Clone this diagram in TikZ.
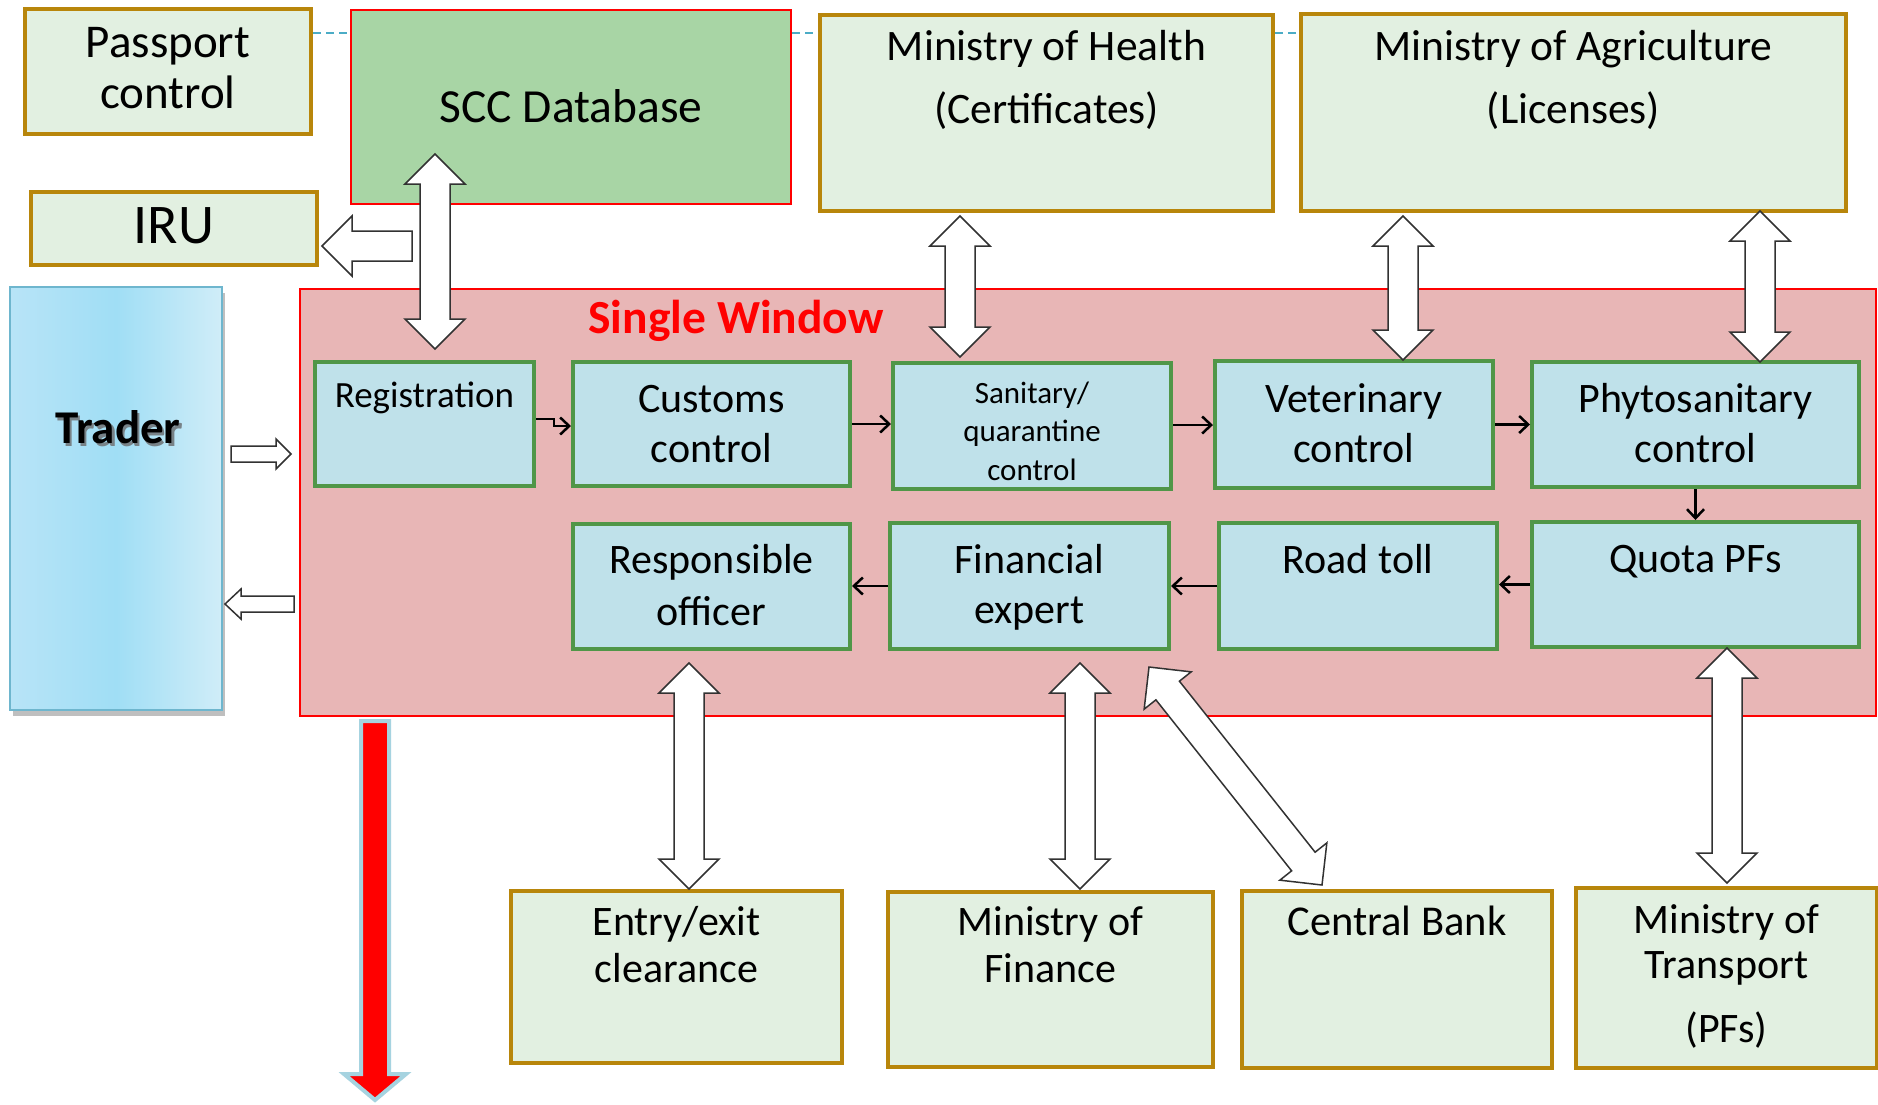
\documentclass[tikz,border=0pt]{standalone}
\usepackage{fontspec}
\setmainfont{Carlito}
\usetikzlibrary{calc,arrows.meta,shadows}

\definecolor{gbfill}{RGB}{226,240,225}
\definecolor{gbdraw}{RGB}{184,134,11}
\definecolor{sccfill}{RGB}{168,213,165}
\definecolor{swfill}{RGB}{232,182,182}
\definecolor{ibfill}{RGB}{191,225,234}
\definecolor{ibdraw}{RGB}{80,150,72}
\definecolor{dashc}{RGB}{75,172,198}
\definecolor{trdraw}{RGB}{110,182,206}
\definecolor{trl}{RGB}{184,228,247}
\definecolor{trm}{RGB}{160,222,245}
\definecolor{trr}{RGB}{208,237,248}
\definecolor{redarrowb}{RGB}{166,211,224}
\definecolor{blkdraw}{RGB}{50,50,50}
\definecolor{tshadow}{RGB}{120,130,135}

\newcommand\mlines[1]{\begin{tabular}[t]{@{}c@{}}#1\end{tabular}}
\newcommand\shadowed[1]{\makebox[0pt][l]{\hspace{2.5pt}\raisebox{-3pt}{\textcolor{tshadow}{#1}}}#1}

% double-headed block arrow between two named coordinates
\newcommand\dblblock[5]{%
  \coordinate (ha) at ($(#1)!#3pt!(#2)$);
  \coordinate (hb) at ($(#2)!#3pt!(#1)$);
  \draw[blockarr] (#1) -- ($(ha)!#4pt!90:(#2)$) -- ($(ha)!#5pt!90:(#2)$)
    -- ($(hb)!#5pt!-90:(#1)$) -- ($(hb)!#4pt!-90:(#1)$) -- (#2)
    -- ($(hb)!#4pt!90:(#1)$) -- ($(hb)!#5pt!90:(#1)$)
    -- ($(ha)!#5pt!-90:(#2)$) -- ($(ha)!#4pt!-90:(#2)$) -- cycle;}
% single-headed block arrow from tail #1 to tip #2
\newcommand\sglblock[5]{%
  \coordinate (hb) at ($(#2)!#3pt!(#1)$);
  \draw[blockarr] ($(#1)!#5pt!90:(#2)$) -- ($(hb)!#5pt!-90:(#1)$)
    -- ($(hb)!#4pt!-90:(#1)$) -- (#2) -- ($(hb)!#4pt!90:(#1)$)
    -- ($(hb)!#5pt!90:(#1)$) -- ($(#1)!#5pt!-90:(#2)$) -- cycle;}

\begin{document}
\begin{tikzpicture}[x=1pt,y=-1pt,
  sz/.style 2 args={minimum width=#1pt, minimum height=#2pt},
  gbox/.style={draw=gbdraw, fill=gbfill, line width=4pt, inner sep=0pt},
  sccbox/.style={draw=red, fill=sccfill, line width=2pt, inner sep=0pt},
  swbox/.style={draw=red, fill=swfill, line width=2pt, inner sep=0pt},
  ibox/.style={draw=ibdraw, fill=ibfill, line width=4pt, inner sep=0pt},
  trbox/.style={draw=trdraw, line width=2pt, inner sep=0pt,
     left color=trl, right color=trr, middle color=trm,
     drop shadow={shadow xshift=3pt, shadow yshift=-6pt, fill=black, opacity=0.25}},
  txt/.style={anchor=base, inner sep=0pt},
  fnt/.style 2 args={font=\fontsize{#1}{#2}\selectfont},
  dashln/.style={draw=dashc, line width=2pt, dash pattern=on 8pt off 5pt},
  blockarr/.style={draw=blkdraw, fill=white, line width=1.5pt, line join=miter},
  flow/.style={line width=2.5pt, -{Straight Barb[length=9pt,width=17pt]}},
]
\useasboundingbox (0,0) rectangle (1878,1104);
\fill[white] (0,0) rectangle (1878,1104);

% dashed links along the top
\coordinate (dy) at (0,33);
\node[gbox,sz={286}{125}] (pass) at (168,71.5) {};
\node[sccbox,sz={440}{194}] (scc) at (571,107) {};
\node[gbox,sz={453}{196}] (moh) at (1046.5,113) {};
\node[gbox,sz={545}{197}] (moa) at (1573.5,112.5) {};
\draw[dashln] (pass.east |- dy) -- (scc.west |- dy);
\draw[dashln] (scc.east |- dy) -- (moh.west |- dy);
\draw[dashln] (moh.east |- dy) -- (moa.west |- dy);

\node[gbox,sz={286}{73}] (iru) at (174,228.5) {};
\node[trbox,sz={212}{423}] (trader) at (116,498.5) {};
\node[swbox,sz={1576}{427}] (sw) at (1088,502.5) {};

% inner process boxes
\node[ibox,sz={219}{124}] (reg) at (424.5,424) {};
\node[ibox,sz={277}{124}] (cust) at (711.5,424) {};
\node[ibox,sz={278}{126}] (san) at (1032,426) {};
\node[ibox,sz={278}{127}] (vet) at (1354,424.5) {};
\node[ibox,sz={327}{125}] (phy) at (1695.5,424.5) {};
\node[ibox,sz={277}{125}] (resp) at (711.5,586.5) {};
\node[ibox,sz={279}{126}] (fin) at (1029.5,586) {};
\node[ibox,sz={278}{126}] (road) at (1358,586) {};
\node[ibox,sz={327}{125}] (quota) at (1695.5,584.5) {};

% bottom boxes
\node[gbox,sz={331}{172}] (entry) at (676.5,977) {};
\node[gbox,sz={325}{175}] (mof) at (1050.5,979.5) {};
\node[gbox,sz={310}{177}] (cb) at (1397,979.5) {};
\node[gbox,sz={301}{180}] (mot) at (1726.5,978) {};

% texts
\node[txt,fnt={47}{51}] (passT) at (168,57) {\mlines{Passport\\control}};
\node[txt,fnt={47.5}{47.5}] (sccT) at (571,122) {SCC Database};
\node[txt,fnt={43.5}{63}] (mohT) at (1046.5,60) {\mlines{Ministry of Health\\(Certificates)}};
\node[txt,fnt={43.5}{63}] (moaT) at (1573.5,60) {\mlines{Ministry of Agriculture\\(Licenses)}};
\node[txt,fnt={56}{56}] (iruT) at (174,243) {IRU};
\node[txt,font=\fontsize{47}{47}\selectfont\bfseries] (traderT) at (118,443) {\shadowed{Trader}};
\node[txt,font=\fontsize{47.5}{47.5}\selectfont\bfseries,text=red] (swT) at (736,333) {Single Window};
\node[txt,fnt={37}{37}] (regT) at (424.5,407) {Registration};
\node[txt,fnt={42}{50}] (custT) at (711.5,412) {\mlines{Customs\\control}};
\node[txt,fnt={31}{38.5}] (sanT) at (1032,403) {\mlines{Sanitary/\\quarantine\\control}};
\node[txt,fnt={42}{50}] (vetT) at (1354,412) {\mlines{Veterinary\\control}};
\node[txt,fnt={42}{50}] (phyT) at (1695.5,412) {\mlines{Phytosanitary\\control}};
\node[txt,fnt={42}{52}] (respT) at (711.5,573) {\mlines{Responsible\\officer}};
\node[txt,fnt={42}{50}] (finT) at (1029.5,573) {\mlines{Financial\\expert}};
\node[txt,fnt={42}{42}] (roadT) at (1358,573) {Road toll};
\node[txt,fnt={42}{42}] (quotaT) at (1695.5,572) {Quota PFs};
\node[txt,fnt={42}{47}] (entryT) at (676.5,935) {\mlines{Entry/exit\\clearance}};
\node[txt,fnt={42}{47}] (mofT) at (1050.5,935) {\mlines{Ministry of\\Finance}};
\node[txt,fnt={42.5}{42.5}] (cbT) at (1397,935) {Central Bank};
\node[txt,fnt={42}{45}] (motT) at (1726.5,933) {\mlines{Ministry of\\Transport\\[19pt](PFs)}};

% flow arrows inside the single window
\draw[flow] ($(reg.east)+(0,-5)$) -- ++(18,0) |- ($(cust.west)+(0,2)$);
\draw[flow] (cust.east) -- (cust.east -| san.west);
\draw[flow] ($(san.east)+(0,-1)$) -- ($(san.east -| vet.west)+(0,-1)$);
\draw[flow] (vet.east) -- (vet.east -| phy.west);
\draw[flow] (phy.south) -- (quota.north);
\draw[flow] (quota.west) -- (quota.west -| road.east);
\draw[flow] (road.west) -- (road.west -| fin.east);
\draw[flow] (fin.west) -- (fin.west -| resp.east);

% block arrows
\coordinate (b1a) at (435,154);  \coordinate (b1b) at (435,349);
\dblblock{b1a}{b1b}{30}{30}{15}
\coordinate (b2a) at (412,246);  \coordinate (b2b) at (322,246);
\sglblock{b2a}{b2b}{30}{30}{15}
\coordinate (b3a) at (960,216);  \coordinate (b3b) at (960,357);
\dblblock{b3a}{b3b}{30}{30}{15}
\coordinate (b4a) at (1403,216); \coordinate (b4b) at (1403,360);
\dblblock{b4a}{b4b}{30}{30}{15}
\coordinate (b5a) at (1760,211); \coordinate (b5b) at (1760,362);
\dblblock{b5a}{b5b}{30}{30}{15}
\coordinate (b6a) at (231,454);  \coordinate (b6b) at (291,454);
\sglblock{b6a}{b6b}{15}{15}{8}
\coordinate (b7a) at (294,604);  \coordinate (b7b) at (225,604);
\sglblock{b7a}{b7b}{16}{15}{8}
\coordinate (b8a) at (689,663);  \coordinate (b8b) at (689,889);
\dblblock{b8a}{b8b}{30}{30}{15}
\coordinate (b9a) at (1080,663); \coordinate (b9b) at (1080,889);
\dblblock{b9a}{b9b}{30}{30}{15}
\coordinate (b10a) at (1149,667); \coordinate (b10b) at (1322,885);
\dblblock{b10a}{b10b}{30}{30}{15}
\coordinate (b11a) at (1727,648); \coordinate (b11b) at (1727,883);
\dblblock{b11a}{b11b}{30}{30}{15}

% red downward arrow
\draw[draw=redarrowb, fill=red, line width=4pt]
  (361,721) -- (389,721) -- (389,1074) -- (406,1074) -- (375,1100)
  -- (344,1074) -- (361,1074) -- cycle;
\end{tikzpicture}
\end{document}
